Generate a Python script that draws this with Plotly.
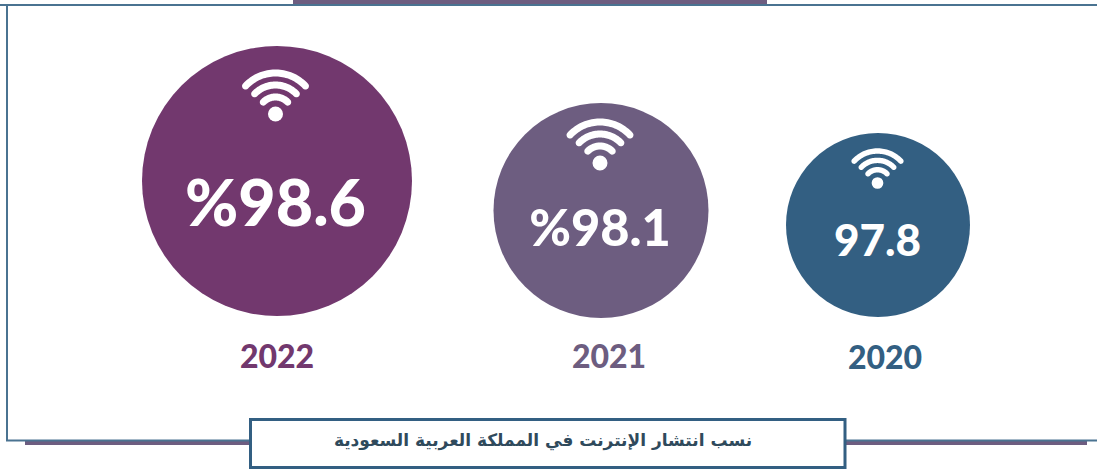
import numpy as np
import plotly.graph_objects as go

years = ["2022", "2021", "2020"]
value_labels = ["%98.6", "%98.1", "97.8"]
title_text = "نسب انتشار الإنترنت في المملكة العربية السعودية"

# layout (pixel positions on a 1097x470 canvas)
centre_x = [277, 601, 878]
centre_y = [181, 210.5, 225]
diameters = [270, 215, 184]
colors = ["#72386E", "#6D5D80", "#335F82"]
value_x = [275.5, 600, 877.5]
value_y = [210, 233, 245]
value_font = [64.5, 50.5, 44]
year_y = [360, 360, 361]
year_x = [277, 609, 885]
icon_x = [275.5, 600, 877.5]
icon_y = [114, 163, 183]
icon_scale = [1.0, 1.0, 0.78]

BLUE = "#335F82"
PURPLE = "#6D5D80"
FONT = "Lato"


def arc_path(cx, cy, r, half_angle, width):
    """Closed polygon of a thick arc with rounded ends, opening upward."""
    a = np.radians(np.linspace(-half_angle, half_angle, 40))
    outer = [(cx + (r + width / 2) * np.sin(t), cy - (r + width / 2) * np.cos(t)) for t in a]
    inner = [(cx + (r - width / 2) * np.sin(t), cy - (r - width / 2) * np.cos(t)) for t in a[::-1]]

    def cap(t, sign):
        ex, ey = cx + r * np.sin(t), cy - r * np.cos(t)
        out = []
        for p in np.radians(np.linspace(0, 180, 10))[1:-1]:
            rad_x, rad_y = np.sin(t), -np.cos(t)
            tan_x, tan_y = np.cos(t) * sign, np.sin(t) * sign
            d = width / 2
            out.append((ex + d * (np.cos(p) * rad_x + np.sin(p) * tan_x),
                        ey + d * (np.cos(p) * rad_y + np.sin(p) * tan_y)))
        return out

    pts = outer + cap(a[-1], 1) + inner + cap(a[0], -1)[::-1]
    return "M" + "L".join(f"{x:.2f},{y:.2f}" for x, y in pts) + "Z"


shapes = []


def rect(x0, y0, x1, y1, fill, line=None, lw=0):
    shapes.append(dict(type="rect", x0=x0, y0=y0, x1=x1, y1=y1, fillcolor=fill,
                       line=dict(color=line or fill, width=lw), layer="below"))


# frame
rect(25, 441, 1087, 445, PURPLE)
rect(293, 0, 767, 4, PURPLE)
rect(0, 4, 1097, 6, "#4A7391")
rect(6, 5, 8, 441, "#4A7391")
rect(6, 439.5, 1097, 441.5, "#4A7391")
rect(250.5, 419.5, 845, 467.5, "white", BLUE, 3)

# wifi icons
for cx, cy, s in zip(icon_x, icon_y, icon_scale):
    for r, ang in [(41, 47), (29, 46), (17, 46)]:
        shapes.append(dict(type="path", path=arc_path(cx, cy, r * s, ang, 7 * s),
                           fillcolor="white", line=dict(width=0), layer="above"))
    shapes.append(dict(type="circle", x0=cx - 7.5 * s, x1=cx + 7.5 * s, y0=cy - 7.5 * s, y1=cy + 7.5 * s,
                       fillcolor="white", line=dict(width=0), layer="above"))

fig = go.Figure()
fig.add_trace(go.Scatter(
    x=centre_x, y=centre_y, mode="markers",
    marker=dict(size=diameters, sizemode="diameter", sizeref=1, color=colors, opacity=1, line=dict(width=0)),
    hoverinfo="skip", showlegend=False))
fig.add_trace(go.Scatter(
    x=value_x, y=value_y, mode="text", text=value_labels, textposition="middle center",
    textfont=dict(family=FONT, size=value_font, color="white", weight=900),
    hoverinfo="skip", showlegend=False))
fig.add_trace(go.Scatter(
    x=year_x, y=year_y, mode="text", text=years, textposition="middle center",
    textfont=dict(family=FONT, size=32, color=colors, weight=900),
    hoverinfo="skip", showlegend=False))
fig.add_trace(go.Scatter(
    x=[543], y=[442], mode="text", text=[title_text], textposition="middle center",
    textfont=dict(family="DejaVu Sans", size=17, color="#2f4a5c", weight="bold"),
    hoverinfo="skip", showlegend=False))

fig.update_layout(
    width=1097, height=470, margin=dict(l=0, r=0, t=0, b=0),
    paper_bgcolor="white", plot_bgcolor="white", shapes=shapes,
    xaxis=dict(range=[0, 1097], visible=False, fixedrange=True),
    yaxis=dict(range=[470, 0], visible=False, fixedrange=True),
)
fig.write_html("out.html", config=dict(displayModeBar=False),
               post_script="document.body.style.margin='0';")
